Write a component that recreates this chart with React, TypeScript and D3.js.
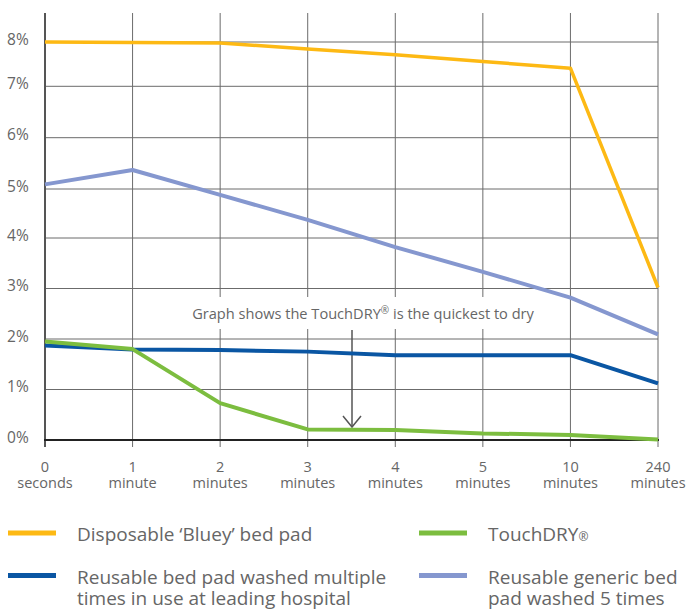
import { useEffect } from 'react'
import * as d3 from 'd3'

// x categories (two-line labels)
const timeNums = ['0', '1', '2', '3', '4', '5', '10', '240']
const timeUnits = ['seconds', 'minute', 'minutes', 'minutes', 'minutes', 'minutes', 'minutes', 'minutes']
const yTicks = [0, 1, 2, 3, 4, 5, 6, 7, 8]

// moisture %
const disposable = [8.0, 7.99, 7.98, 7.84, 7.71, 7.56, 7.41, 3.02]
const touchDry = [1.95, 1.8, 0.73, 0.21, 0.2, 0.13, 0.1, 0.01]
const reusableHospital = [1.87, 1.79, 1.78, 1.75, 1.68, 1.68, 1.68, 1.12]
const reusableGeneric = [5.09, 5.37, 4.88, 4.37, 3.82, 3.33, 2.82, 2.09]

const W = 687, H = 609
const FONT = '"Open Sans", "DejaVu Sans", sans-serif'
const TXT = '#666'
const GRID = '#6b6b6b'

export default function App(): JSX.Element {
  useEffect(() => { document.body.style.margin = '0' }, [])

  const x = d3.scalePoint<string>().domain(timeNums).range([45, 658])
  // the printed grid is not quite even, so map each tick onto its own row
  const y = d3.scaleLinear().domain(yTicks).range([440, 389.5, 339, 288.5, 238, 189, 137.7, 86.3, 42])

  const line = d3.line<number>()
    .x((_, i) => x(timeNums[i]) as number)
    .y(d => y(d))

  const series = [
    { values: reusableGeneric, color: '#8597cf', w: 4 },
    { values: reusableHospital, color: '#0a56a3', w: 4 },
    { values: touchDry, color: '#7cbd3f', w: 4 },
    { values: disposable, color: '#fdb914', w: 3.5 },
  ]

  const legend = [
    { color: '#fdb914', x: 8, y: 533, lines: ['Disposable \u2018Bluey\u2019 bed pad'] },
    { color: '#7cbd3f', x: 419, y: 533, lines: ['TouchDRY'], reg: true },
    { color: '#0a56a3', x: 8, y: 575.5, lines: ['Reusable bed pad washed multiple', 'times in use at leading hospital'] },
    { color: '#8597cf', x: 419, y: 575.5, lines: ['Reusable generic bed', 'pad washed 5 times'] },
  ]

  const arrowX = 352

  return (
    <svg width={W} height={H} style={{ display: 'block', fontFamily: FONT }}>
      {/* horizontal grid */}
      {yTicks.slice(1).map(t => (
        <line key={'h' + t} x1={45} x2={658} y1={y(t)} y2={y(t)} stroke={GRID} strokeWidth={1} />
      ))}
      {/* vertical grid */}
      {timeNums.slice(1).map(t => (
        <line key={'v' + t} x1={x(t)} x2={x(t)} y1={13} y2={447} stroke={GRID} strokeWidth={1} />
      ))}
      {/* annotation knock-out */}
      <rect x={180} y={297} width={380} height={32} fill="#fff" />
      <text x={363} y={319} textAnchor="middle" fontSize={14.6} fill={TXT}>
        Graph shows the TouchDRY<tspan fontSize={10} dy={-5}>®</tspan><tspan dy={5}> is the quickest to dry</tspan>
      </text>

      {/* axes */}
      <line x1={45} x2={45} y1={13} y2={447} stroke="#555" strokeWidth={2} />
      <line x1={44} x2={659} y1={440} y2={440} stroke="#222" strokeWidth={2} />

      {/* arrow */}
      <line x1={arrowX} x2={arrowX} y1={330} y2={427} stroke="#555" strokeWidth={1.5} />
      <path d={`M${arrowX - 9},${416}L${arrowX},${427}L${arrowX + 9},${416}`} fill="none" stroke="#555" strokeWidth={1.5} />

      {/* series */}
      {series.map((s, i) => (
        <path key={i} d={line(s.values) ?? ''} fill="none" stroke={s.color} strokeWidth={s.w} strokeLinejoin="round" />
      ))}

      {/* y labels */}
      {yTicks.map(t => (
        <text key={'yl' + t} x={7} y={y(t) + 2.5} fontSize={15.5} fill={TXT}>{t}%</text>
      ))}
      {/* x labels */}
      {timeNums.map((t, i) => (
        <text key={'xl' + t} x={x(t)} y={471.5} textAnchor="middle" fontSize={14.5} fill={TXT}>
          <tspan x={x(t)}>{t}</tspan>
          <tspan x={x(t)} dy={16.5}>{timeUnits[i]}</tspan>
        </text>
      ))}

      {/* legend */}
      {legend.map((l, i) => (
        <g key={'lg' + i}>
          <rect x={l.x} y={l.y - 2.5} width={48} height={5} fill={l.color} />
          <text x={l.x + 69} y={l.y + 8} fontSize={19} fill={TXT}>
            {l.lines.map((s, j) => (
              <tspan key={j} x={l.x + 69} dy={j === 0 ? 0 : 21.5}>{s}</tspan>
            ))}
            {l.reg ? <tspan fontSize={12}>®</tspan> : null}
          </text>
        </g>
      ))}
    </svg>
  )
}
